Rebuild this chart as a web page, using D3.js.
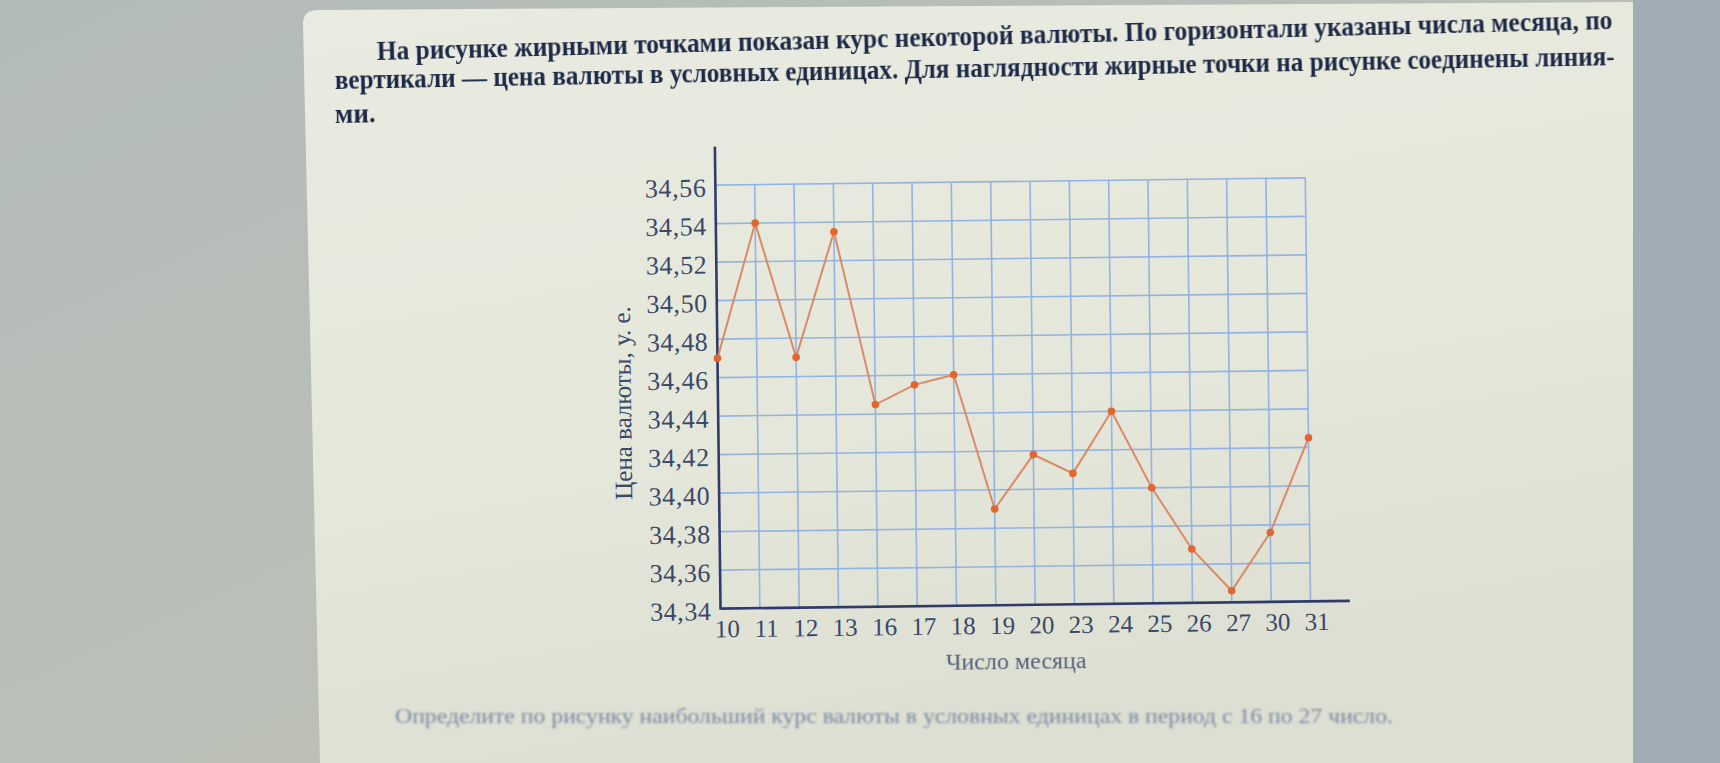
<!DOCTYPE html>
<html lang="ru">
<head>
    <meta charset="UTF-8">
    <title>Курс валюты</title>
    <script src="https://d3js.org/d3.v7.min.js"></script>
    <style>
        html, body { margin: 0; padding: 0; background: #b8bfba; }
        svg { display: block; }
        .serif { font-family: "Liberation Serif", "DejaVu Serif", serif; }
    </style>
</head>
<body>
    <svg width="1720" height="763"></svg>

    <script type="text/javascript">
        // Data
        const days = ['10', '11', '12', '13', '16', '17', '18', '19', '20', '23', '24', '25', '26', '27', '30', '31'];
        const rates = [34.47, 34.54, 34.47, 34.535, 34.445, 34.455, 34.46, 34.39, 34.418, 34.408, 34.44, 34.40, 34.368, 34.346, 34.376, 34.425];
        const yTicks = [34.34, 34.36, 34.38, 34.40, 34.42, 34.44, 34.46, 34.48, 34.50, 34.52, 34.54, 34.56];

        const textLines = [
            'На рисунке жирными точками показан курс некоторой валюты. По горизонтали указаны числа месяца, по',
            'вертикали  — цена валюты в условных единицах. Для наглядности жирные точки на рисунке соединены линия-',
            'ми.'
        ];
        const question = 'Определите по рисунку наибольший курс валюты в условных единицах в период с 16 по 27 число.';
        const yTitle = 'Цена валюты, у. е.';
        const xTitle = 'Число месяца';

        const points = days.map((d, i) => ({ day: d, rate: rates[i] }));

        const width = 1720;
        const height = 763;

        const svg = d3.select('svg')
            .attr('width', width)
            .attr('height', height);

        // --- photo background ---
        const defs = svg.append('defs');
        const leftGrad = defs.append('linearGradient').attr('id', 'leftGrad')
            .attr('x1', 0).attr('x2', 1).attr('y1', 0).attr('y2', 1);
        leftGrad.append('stop').attr('offset', '0%').attr('stop-color', '#b3bbb8');
        leftGrad.append('stop').attr('offset', '100%').attr('stop-color', '#c1c3b6');

        const pageGrad = defs.append('linearGradient').attr('id', 'pageGrad')
            .attr('x1', 0).attr('x2', 0.3).attr('y1', 0).attr('y2', 1);
        pageGrad.append('stop').attr('offset', '0%').attr('stop-color', '#e9ebe1');
        pageGrad.append('stop').attr('offset', '60%').attr('stop-color', '#e5e7da');
        pageGrad.append('stop').attr('offset', '100%').attr('stop-color', '#dcdfd1');

        defs.append('filter').attr('id', 'soft')
            .append('feGaussianBlur').attr('stdDeviation', 0.9);
        defs.append('filter').attr('id', 'softer')
            .append('feGaussianBlur').attr('stdDeviation', 0.5);

        svg.append('rect')
            .attr('width', width).attr('height', height)
            .attr('fill', 'url(#leftGrad)');

        svg.append('rect')
            .attr('x', 1633).attr('width', width - 1633).attr('height', height)
            .attr('fill', '#a1adb4');

        svg.append('path')
            .attr('d', 'M303,24 Q303,10 318,10 L1633,2 L1633,763 L320,763 Z')
            .attr('fill', 'url(#pageGrad)');

        // --- problem text ---
        const textColor = '#1f2947';
        const lineSpec = [
            { x: 377, y: 60, len: 1236, angle: -1.44 },
            { x: 335, y: 89, len: 1280, angle: -1.07 },
            { x: 335, y: 123, len: null, angle: -1.0 }
        ];
        textLines.forEach((t, i) => {
            const s = lineSpec[i];
            const txt = svg.append('text')
                .attr('class', 'serif')
                .attr('x', s.x)
                .attr('y', s.y)
                .attr('transform', `rotate(${s.angle},${s.x},${s.y})`)
                .attr('font-size', 27)
                .attr('font-weight', 'bold')
                .attr('fill', textColor)
                .attr('filter', 'url(#softer)')
                .text(t);
            if (s.len) {
                txt.attr('textLength', s.len).attr('lengthAdjust', 'spacingAndGlyphs');
            }
        });

        svg.append('text')
            .attr('class', 'serif')
            .attr('x', 395)
            .attr('y', 723)
            .attr('font-size', 21)
            .attr('fill', '#7e88a6')
            .attr('textLength', 998)
            .attr('lengthAdjust', 'spacingAndGlyphs')
            .attr('filter', 'url(#soft)')
            .text(question);

        // --- chart ---
        const chart = svg.append('g')
            .attr('transform', 'rotate(-0.7,1013,400)');

        const x = d3.scalePoint()
            .domain(days)
            .range([718, 1308]);

        const y = d3.scaleLinear()
            .domain([34.34, 34.58])
            .range([605, 143]);

        const gridColor = '#92b3e3';
        const axisColor = '#2f3c6b';
        const labelColor = '#3b4869';
        const yTop = d3.max(yTicks);
        const yBottom = d3.min(yTicks);

        // grid
        chart.append('g')
            .selectAll('line')
            .data(yTicks.filter(v => v > yBottom))
            .join('line')
            .attr('x1', x(days[0]))
            .attr('x2', x(days[days.length - 1]))
            .attr('y1', d => y(d))
            .attr('y2', d => y(d))
            .attr('stroke', gridColor)
            .attr('stroke-width', 1.6);

        chart.append('g')
            .selectAll('line')
            .data(days.slice(1))
            .join('line')
            .attr('x1', d => x(d))
            .attr('x2', d => x(d))
            .attr('y1', y(yTop))
            .attr('y2', y(yBottom))
            .attr('stroke', gridColor)
            .attr('stroke-width', 1.6);

        // axes lines
        chart.append('line')
            .attr('x1', x(days[0]))
            .attr('x2', x(days[days.length - 1]) + x.step())
            .attr('y1', y(yBottom))
            .attr('y2', y(yBottom))
            .attr('stroke', axisColor)
            .attr('stroke-width', 2.6);

        chart.append('line')
            .attr('x1', x(days[0]))
            .attr('x2', x(days[0]))
            .attr('y1', y(yBottom) + 1)
            .attr('y2', y.range()[1])
            .attr('stroke', axisColor)
            .attr('stroke-width', 2.6);

        // tick labels
        const yAxis = chart.append('g')
            .attr('transform', `translate(${x(days[0])},0)`)
            .call(d3.axisLeft(y)
                .tickValues(yTicks)
                .tickSize(0)
                .tickPadding(9)
                .tickFormat(d => d.toFixed(2).replace('.', ',')));
        yAxis.select('.domain').remove();
        yAxis.selectAll('text')
            .attr('class', 'serif')
            .attr('font-size', 26)
            .attr('letter-spacing', 0.6)
            .attr('dy', '0.42em')
            .attr('fill', labelColor);

        const xAxis = chart.append('g')
            .attr('transform', `translate(0,${y(yBottom)})`)
            .call(d3.axisBottom(x).tickSize(0).tickPadding(11));
        xAxis.select('.domain').remove();
        xAxis.selectAll('text')
            .attr('class', 'serif')
            .attr('font-size', 25)
            .attr('dx', 6)
            .attr('fill', labelColor);

        // axis titles
        chart.append('text')
            .attr('class', 'serif')
            .attr('transform', `translate(631,${(y(34.34) + y(34.56)) / 2 + 5}) rotate(-90)`)
            .attr('text-anchor', 'middle')
            .attr('font-size', 25)
            .attr('fill', labelColor)
            .text(yTitle);

        chart.append('text')
            .attr('class', 'serif')
            .attr('x', (x(days[0]) + x(days[days.length - 1])) / 2)
            .attr('y', 669)
            .attr('text-anchor', 'middle')
            .attr('font-size', 24)
            .attr('fill', '#56627f')
            .attr('filter', 'url(#softer)')
            .text(xTitle);

        // data line and points
        const line = d3.line()
            .x(d => x(d.day))
            .y(d => y(d.rate));

        chart.append('path')
            .datum(points)
            .attr('d', line)
            .attr('fill', 'none')
            .attr('stroke', '#d98a68')
            .attr('stroke-width', 2);

        chart.append('g')
            .selectAll('circle')
            .data(points)
            .join('circle')
            .attr('cx', d => x(d.day))
            .attr('cy', d => y(d.rate))
            .attr('r', 3.8)
            .attr('fill', '#e2662d');
    </script>
</body>
</html>
